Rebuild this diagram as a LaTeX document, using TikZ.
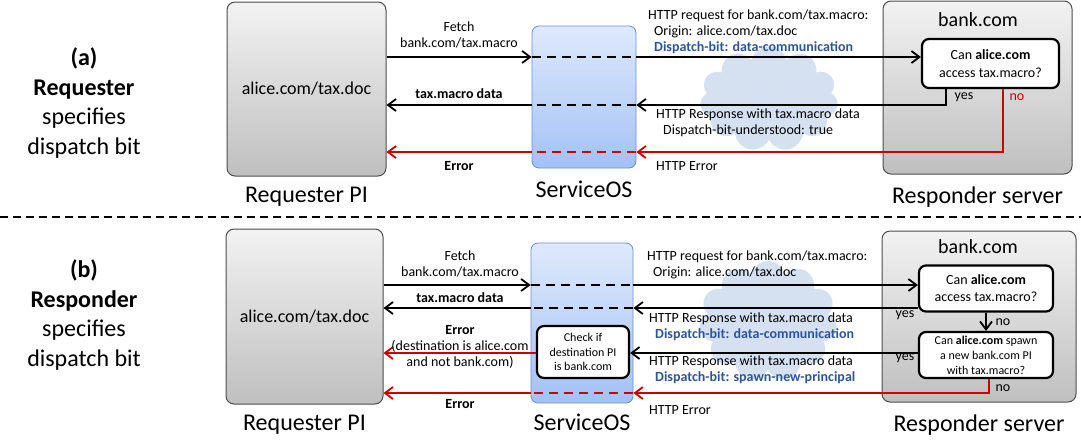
\documentclass[tikz,border=0pt]{standalone}
\usepackage{fontspec}
\setmainfont{Carlito}
\usepackage{tikz}
\usetikzlibrary{positioning,arrows.meta,shapes.symbols}
\definecolor{bitblue}{RGB}{47,85,151}
\definecolor{errred}{RGB}{200,0,0}
\definecolor{cloudblue}{RGB}{213,224,241}
\definecolor{ostop}{RGB}{222,233,252}
\definecolor{osbot}{RGB}{163,193,246}
\definecolor{osline}{RGB}{108,142,208}

\begin{document}
\begin{tikzpicture}[x=1pt, y=-1pt, >={Straight Barb[length=8pt,width=12pt]}]
\tikzstyle{every node}=[inner sep=0pt]
\tikzstyle{pibox}=[draw=black!70, line width=1pt, rounded corners=8pt, top color=black!5, bottom color=black!25]
\tikzstyle{osbox}=[draw=osline, line width=0.8pt, rounded corners=7pt, top color=ostop, bottom color=osbot]
\tikzstyle{askbox}=[draw=black, line width=2.2pt, rounded corners=7pt, fill=white, align=center]
\tikzstyle{msg}=[font=\fontsize{14}{16}\selectfont, align=left]
\tikzstyle{big}=[font=\fontsize{24}{29.5}\selectfont, align=center]
\tikzstyle{wire}=[line width=1.8pt]
\tikzstyle{thru}=[wire, dash pattern=on 9pt off 6pt]
\tikzstyle{puff}=[cloud, cloud puffs=11, fill=cloudblue, draw=none]

\useasboundingbox (0,0) rectangle (1081,440);

\node[puff, minimum width=138pt, minimum height=105pt] (skyA) at (769,99) {};
\node[puff, minimum width=138pt, minimum height=120pt] (skyB) at (768,321) {};

\node[big] (capA) at (84,103) {\textbf{(a)}\\\textbf{Requester}\\specifies\\dispatch bit};
\node[pibox, minimum width=159pt, minimum height=174pt] (reqA) at (306.5,89) {\fontsize{18}{22}\selectfont alice.com/tax.doc};
\node[big, below=10pt of reqA] (reqAl) {Requester PI};
\node[osbox, minimum width=104pt, minimum height=142pt] (osA) at (584,97) {};
\node[big, below=12pt of osA] (osAl) {ServiceOS};
\node[pibox, minimum width=189pt, minimum height=173pt] (resA) at (977.5,87.5) {};
\node[big, below=12pt of resA] (resAl) {Responder server};
\node[font=\fontsize{20}{24}\selectfont] (bankA) at (978,20) {bank.com};
\node[askbox, font=\fontsize{14}{17.5}\selectfont, minimum width=137pt, minimum height=49pt] (askA) at (990.5,63.5) {Can \textbf{alice.com}\\access tax.macro?};

\coordinate (fA) at (0,57);
\coordinate (tA) at (0,105);
\coordinate (eA) at (0,152);

\path[wire,->] (reqA.east |- fA) edge (osA.west |- fA);
\draw[thru] (osA.west |- fA) -- (osA.east |- fA);
\path[wire,->] (osA.east |- fA) edge (askA.west |- fA);
\draw[wire,->] ([xshift=25pt]askA.south west) |- (osA.east |- tA);
\draw[thru] (osA.east |- tA) -- (osA.west |- tA);
\path[wire,->] (osA.west |- tA) edge (reqA.east |- tA);
\draw[wire,errred,->] ([xshift=82pt]askA.south west) |- (osA.east |- eA);
\draw[thru,errred] (osA.east |- eA) -- (osA.west |- eA);
\path[wire,errred,->] (osA.west |- eA) edge (reqA.east |- eA);

\node[msg, align=center] (fetchA) at (459,34.5) {Fetch\\bank.com/tax.macro};
\node[msg] (dataA) at (459,94) {\textbf{tax.macro data}};
\node[msg] (errA) at (459,166) {\textbf{Error}};
\node[msg, anchor=west] (reqmA) at (648,32) {HTTP request for bank.com/tax.macro:\\\hspace*{6pt}Origin: alice.com/tax.doc\\\hspace*{6pt}\textcolor{bitblue}{\textbf{Dispatch-bit: data-communication}}};
\node[msg, anchor=west] (respA) at (656,123) {HTTP Response with tax.macro data\\\hspace*{7pt}Dispatch-bit-understood: true};
\node[msg, anchor=west] (herrA) at (656,166) {HTTP Error};
\node[msg] (yesA) at (964,97) {yes};
\node[msg, text=errred] (noA) at (1017,97) {no};

\coordinate (sepL) at (0,217);
\coordinate (sepR) at (1081,217);
\draw[line width=1.3pt, dash pattern=on 8pt off 5pt] (sepL) -- (sepR);

\node[big] (capB) at (84,315) {\textbf{(b)}\\\textbf{Responder}\\specifies\\dispatch bit};
\node[pibox, minimum width=157pt, minimum height=175pt] (reqB) at (304.5,316.5) {\fontsize{18}{22}\selectfont alice.com/tax.doc};
\node[big, below=10pt of reqB] (reqBl) {Requester PI};
\node[osbox, minimum width=102pt, minimum height=160pt] (osB) at (582,323) {};
\node[big, below=10pt of osB] (osBl) {ServiceOS};
\node[pibox, minimum width=194pt, minimum height=171pt] (resB) at (979,316.5) {};
\node[big, below=12pt of resB] (resBl) {Responder server};
\node[font=\fontsize{20}{24}\selectfont] (bankB) at (978,247) {bank.com};
\node[askbox, font=\fontsize{14}{17}\selectfont, minimum width=134pt, minimum height=46pt] (askB1) at (986,288.5) {Can \textbf{alice.com}\\access tax.macro?};
\node[askbox, font=\fontsize{12}{15}\selectfont, minimum width=134pt, minimum height=46pt] (askB2) at (986,355) {Can \textbf{alice.com} spawn\\a new bank.com PI\\with tax.macro?};
\node[askbox, font=\fontsize{12}{14.5}\selectfont, minimum width=92pt, minimum height=52pt] (chkB) at (583,352) {Check if\\destination PI\\is bank.com};

\coordinate (fB) at (0,285);
\coordinate (tB) at (0,308);
\coordinate (dB) at (0,353);
\coordinate (eB) at (0,393);

\path[wire,->] (reqB.east |- fB) edge (osB.west |- fB);
\draw[thru] (osB.west |- fB) -- (osB.east |- fB);
\path[wire,->] (osB.east |- fB) edge (askB1.west |- fB);
\path[wire,->] (askB1.west |- tB) edge (osB.east |- tB);
\draw[thru] (osB.east |- tB) -- (osB.west |- tB);
\path[wire,->] (osB.west |- tB) edge (reqB.east |- tB);
\path[wire,->] (askB1.south) edge (askB2.north);
\path[wire,->] (askB2.west |- dB) edge (chkB.east |- dB);
\path[wire,errred,->] (chkB.west |- dB) edge (reqB.east |- dB);
\draw[wire,errred,->] ([xshift=3pt]askB2.south) |- (osB.east |- eB);
\draw[thru,errred] (osB.east |- eB) -- (osB.west |- eB);
\path[wire,errred,->] (osB.west |- eB) edge (reqB.east |- eB);

\node[msg, align=center] (fetchB) at (460,264) {Fetch\\bank.com/tax.macro};
\node[msg] (dataB) at (460,298) {\textbf{tax.macro data}};
\node[msg, align=center] (errB1) at (460,347) {\textbf{Error}\\(destination is alice.com\\and not bank.com)};
\node[msg] (errB2) at (460,404) {\textbf{Error}};
\node[msg, anchor=west] (reqmB) at (647,265) {HTTP request for bank.com/tax.macro:\\\hspace*{6pt}Origin: alice.com/tax.doc};
\node[msg, anchor=west] (respB1) at (649,327) {HTTP Response with tax.macro data\\\hspace*{6pt}\textcolor{bitblue}{\textbf{Dispatch-bit: data-communication}}};
\node[msg, anchor=west] (respB2) at (649,370) {HTTP Response with tax.macro data\\\hspace*{6pt}\textcolor{bitblue}{\textbf{Dispatch-bit: spawn-new-principal}}};
\node[msg, anchor=west] (herrB) at (649,410) {HTTP Error};
\node[msg] (yesB1) at (905,315) {yes};
\node[msg] (yesB2) at (905,358) {yes};
\node[msg] (noB1) at (1003,322) {no};
\node[msg] (noB2) at (1003,388) {no};
\end{tikzpicture}
\end{document}
